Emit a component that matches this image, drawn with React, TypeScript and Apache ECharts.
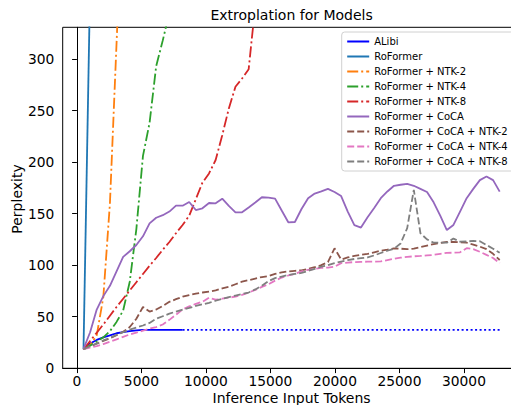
import React, { useEffect, useRef } from "react";
import * as echarts from "echarts";

const tokens = [
  512, 1024, 1536, 2048, 2560, 3072, 3584, 4096, 4608, 5120, 5632, 6144, 6656, 7168, 7680, 8192,
  8704, 9216, 9728, 10240, 10752, 11264, 11776, 12288, 12800, 13312, 13824, 14336, 14848, 15360, 15872, 16384,
  16896, 17408, 17920, 18432, 18944, 19456, 19968, 20480, 20992, 21504, 22016, 22528, 23040, 23552, 24064, 24576,
  25088, 25600, 26112, 26624, 27136, 27648, 28160, 28672, 29184, 29696, 30208, 30720, 31232, 31744, 32256, 32768,
];

const alibi = [18.5, 24, 27.5, 30, 32, 34, 35, 36, 36.8, 37.2, 37.2, 37.2, 37.2, 37.2, 37.2, 37.2];
const alibiTailTokens = [8192, 32768];
const alibiTail = [37.2, 37.2];
const roformer = [18.5, 372];
const ntk2 = [18.5, 22.5, 32, 69, 160, 315, 470];
const ntk4 = [18.5, 22, 26, 30, 36, 45, 56, 84, 135, 206, 238, 293, 318, 345];
const ntk8 = [
  18.5, 26.5, 34.5, 42.5, 51, 59.5, 67.5, 75.5, 83.5, 91.5, 99.5, 107, 115, 122.5, 131, 139,
  148, 164, 180, 189, 202, 226, 252, 273, 281, 290, 352,
];
const coca = [
  18.8, 35, 57, 70, 80, 94, 108, 113.5, 119.6, 128, 140.6, 146, 148.5, 152, 157.7, 157.7,
  161.3, 153.5, 155.2, 160.3, 160, 164.5, 157.5, 151.3, 151.3, 156, 160.8, 165.9, 165.5, 164.5, 153, 141.6,
  141.9, 154.5, 165, 169.5, 171.5, 174, 171, 167, 152, 138.8, 136.5, 146.5, 155.5, 165, 171.5, 177,
  178, 178.8, 177, 174, 171, 161, 148, 134.1, 139, 152, 165, 174, 182.5, 186, 182.5, 171.3,
];
const cocaNtk2 = [
  18.5, 21, 24, 26.5, 29, 32, 35.5, 40, 48, 59.5, 55, 57, 60.5, 64.5, 67, 69.4,
  71, 72.5, 73.5, 74.3, 75.5, 77.5, 79, 81.5, 84, 85.5, 87, 88.5, 89.5, 91.5, 93, 94,
  94.5, 95, 96.5, 98, 100, 103, 116.4, 105.5, 107.5, 109, 110, 111, 112.5, 114, 115, 116.3,
  116, 115.5, 116, 117.5, 119, 120.5, 121.5, 122.5, 122.5, 122.3, 121.8, 120, 118, 115.5, 111, 105,
];
const cocaNtk4 = [
  18.5, 20, 21.5, 23.5, 25.8, 28, 30.5, 32.8, 34.5, 36.5, 38.5, 40, 42.5, 47, 52, 57,
  60, 62.5, 64.5, 68.5, 66.5, 67.5, 68.5, 69.5, 71.3, 73.5, 76, 79, 81.5, 85, 88, 90,
  91.5, 94, 95.5, 96.5, 97.3, 97.7, 98.5, 102, 102.5, 103, 103.2, 103.4, 103.4, 103.6, 105, 106.3,
  107.3, 108, 108.6, 109, 109.5, 110, 111, 112, 112.1, 112.5, 116.5, 115.5, 113, 110, 107, 102,
];
const cocaNtk8 = [
  18.5, 21.5, 24, 27, 29.5, 32.5, 35, 37.5, 39.5, 41.5, 44, 48, 50.5, 53, 55, 57,
  58.5, 60.5, 62, 63.5, 65.5, 67.5, 69, 70.5, 72, 73.5, 76.5, 80, 84.5, 87.5, 89, 90.5,
  91.5, 92.5, 94.5, 96.5, 98.5, 100, 102, 103.5, 105, 106, 106.8, 107.5, 109.5, 111.8, 114, 116,
  121, 136, 173, 131, 125, 121.8, 121.8, 121.8, 125.8, 122.8, 123, 123.5, 123.2, 119.6, 116, 112,
];

const xTicks = [0, 5000, 10000, 15000, 20000, 25000, 30000];
const yTicks = [0, 50, 100, 150, 200, 250, 300];

const legendNames = [
  "ALibi",
  "RoFormer",
  "RoFormer + NTK-2",
  "RoFormer + NTK-4",
  "RoFormer + NTK-8",
  "RoFormer + CoCA",
  "RoFormer + CoCA + NTK-2",
  "RoFormer + CoCA + NTK-4",
  "RoFormer + CoCA + NTK-8",
];

const FONT = '"DejaVu Sans", sans-serif';
const DASHDOT = [11, 3, 2, 3];
const DASHED = [7, 3];
const DOTTED = [2, 2.5];

function pairs(xs: number[], ys: number[]) {
  return ys.map((v, i) => [xs[i], v]);
}

function line(name: string, ys: number[], color: string, type: any, xs: number[] = tokens) {
  return {
    name,
    type: "line",
    data: pairs(xs, ys),
    symbol: "none",
    showSymbol: false,
    clip: true,
    silent: true,
    emphasis: { disabled: true },
    itemStyle: { color },
    lineStyle: { color, width: 1.8, type },
  };
}

export default function App() {
  const ref = useRef<HTMLDivElement>(null);
  useEffect(() => {
    if (!ref.current) return;
    const chart = echarts.init(ref.current, undefined, { renderer: "svg" });
    chart.setOption({
      animation: false,
      backgroundColor: "#ffffff",
      textStyle: { fontFamily: FONT },
      grid: {
        left: 62.7,
        top: 27.3,
        width: 457.8,
        height: 341,
        show: true,
        borderColor: "#000",
        borderWidth: 1,
        containLabel: false,
        outerBoundsMode: "none",
      },
      xAxis: {
        type: "value",
        min: -1100.8,
        max: 34380.8,
        axisLine: { show: true, lineStyle: { color: "#000", width: 1 } },
        axisTick: { show: true, length: 4.8, customValues: xTicks, lineStyle: { color: "#000", width: 1 } },
        axisLabel: {
          customValues: xTicks,
          color: "#000",
          fontSize: 13.8,
          fontFamily: FONT,
          margin: 6,
          formatter: (v: number) => String(v),
        },
        splitLine: { show: false },
      },
      yAxis: {
        type: "value",
        min: 0,
        max: 330.7,
        axisLine: { show: true, lineStyle: { color: "#000", width: 1 } },
        axisTick: { show: true, length: 4.8, customValues: yTicks, lineStyle: { color: "#000", width: 1 } },
        axisLabel: {
          customValues: yTicks,
          color: "#000",
          fontSize: 13.8,
          fontFamily: FONT,
          margin: 8.4,
          formatter: (v: number) => String(v),
        },
        splitLine: { show: false },
      },
      legend: {
        data: legendNames,
        orient: "vertical",
        left: 341.7,
        top: 32,
        padding: [4.5, 6, 4.5, 4.5],
        itemWidth: 22,
        itemHeight: 10,
        itemGap: 5,
        backgroundColor: "rgba(255,255,255,0.85)",
        borderColor: "#d0d0d0",
        borderWidth: 1,
        borderRadius: 3,
        selectedMode: false,
        itemStyle: { opacity: 0, borderWidth: 0 },
        textStyle: { fontSize: 10, fontFamily: FONT, color: "#000", lineHeight: 10 },
      },
      graphic: [
        {
          type: "text",
          x: 291.6,
          y: 15,
          style: { text: "Extroplation for Models", fontSize: 14, fontFamily: FONT, fill: "#000", align: "center", verticalAlign: "middle" },
        },
        {
          type: "text",
          x: 291.6,
          y: 397.5,
          style: { text: "Inference Input Tokens", fontSize: 14, fontFamily: FONT, fill: "#000", align: "center", verticalAlign: "middle" },
        },
        {
          type: "text",
          x: 16.5,
          y: 199,
          rotation: Math.PI / 2,
          style: { text: "Perplexity", fontSize: 14, fontFamily: FONT, fill: "#000", align: "center", verticalAlign: "middle" },
        },
      ],
      series: [
        line("ALibi", alibi, "#0000ff", "solid"),
        line("ALibi (extrapolated)", alibiTail, "#0000ff", DOTTED, alibiTailTokens),
        line("RoFormer", roformer, "#1f77b4", "solid"),
        line("RoFormer + NTK-2", ntk2, "#ff7f0e", DASHDOT),
        line("RoFormer + NTK-4", ntk4, "#2ca02c", DASHDOT),
        line("RoFormer + NTK-8", ntk8, "#d62728", DASHDOT),
        line("RoFormer + CoCA", coca, "#9467bd", "solid"),
        line("RoFormer + CoCA + NTK-2", cocaNtk2, "#8c564b", DASHED),
        line("RoFormer + CoCA + NTK-4", cocaNtk4, "#e377c2", DASHED),
        line("RoFormer + CoCA + NTK-8", cocaNtk8, "#7f7f7f", DASHED),
      ],
    });
    return () => chart.dispose();
  }, []);
  return (
    <div
      ref={ref}
      style={{ position: "fixed", left: 0, top: 0, width: 530, height: 420 }}
    />
  );
}
